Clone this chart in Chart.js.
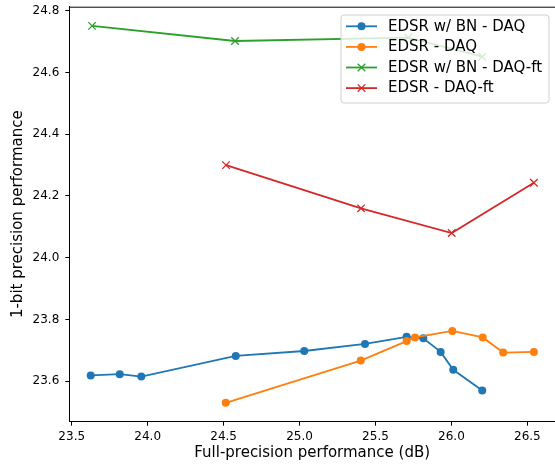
<!DOCTYPE html>
<html>
<head>
<meta charset="utf-8">
<script src="https://cdn.jsdelivr.net/npm/chart.js@4.4.1/dist/chart.umd.min.js"></script>
<style>
  html, body { margin: 0; padding: 0; background: #fff; }
  #wrap { width: 555px; height: 464px; position: relative; }
</style>
</head>
<body>
<div id="wrap"><canvas id="chart"></canvas></div>
<script>
// values
const seriesNames = ['EDSR w/ BN - DAQ', 'EDSR - DAQ', 'EDSR w/ BN - DAQ-ft', 'EDSR - DAQ-ft'];

const bnDaqX = [23.625, 23.816, 23.958, 24.58, 25.031, 25.431, 25.705, 25.815, 25.929, 26.012, 26.203];
const bnDaqY = [23.619, 23.623, 23.615, 23.682, 23.698, 23.721, 23.744, 23.739, 23.695, 23.637, 23.570];

const daqX = [24.514, 25.403, 25.705, 25.76, 26.006, 26.206, 26.341, 26.543];
const daqY = [23.530, 23.667, 23.730, 23.742, 23.763, 23.742, 23.693, 23.695];

const bnFtX = [23.634, 24.575, 25.716, 26.203];
const bnFtY = [24.751, 24.702, 24.713, 24.651];

const ftX = [24.516, 25.405, 26.002, 26.543];
const ftY = [24.300, 24.160, 24.080, 24.243];

const xTicks = [23.5, 24.0, 24.5, 25.0, 25.5, 26.0, 26.5];
const yTicks = [23.6, 23.8, 24.0, 24.2, 24.4, 24.6, 24.8];

const colors = { blue: '#1f77b4', orange: '#ff7f0e', green: '#2ca02c', red: '#d62728' };
const FONT = "'DejaVu Sans', sans-serif";

function pts(xs, ys) {
    return xs.map((x, i) => ({ x: x, y: ys[i] }));
}

function series(label, xs, ys, color, marker, order) {
    const isX = marker === 'x';
    return {
        label: label,
        data: pts(xs, ys),
        borderColor: color,
        backgroundColor: color,
        borderWidth: 1.8,
        pointStyle: isX ? 'crossRot' : 'circle',
        pointRadius: isX ? 5.3 : 4,
        pointBorderWidth: isX ? 1.3 : 0,
        pointBorderColor: color,
        pointBackgroundColor: color,
        pointHoverRadius: isX ? 5.3 : 4,
        tension: 0,
        fill: false,
        order: order
    };
}

// keep the plot box where the reference has it
function noPad(s) {
    s.paddingTop = 0; s.paddingBottom = 0; s.paddingLeft = 0; s.paddingRight = 0;
}

// matplotlib-style box legend inside the axes + top spine
const boxLegend = {
    id: 'boxLegend',
    afterDatasetsDraw(chart) {
        const ctx = chart.ctx;
        const a = chart.chartArea;
        ctx.save();
        ctx.strokeStyle = '#000';
        ctx.lineWidth = 1;
        ctx.beginPath();
        ctx.moveTo(a.left, a.top + 0.5);
        ctx.lineTo(a.right, a.top + 0.5);
        ctx.stroke();

        const bx = 341, by = 15, bw = 208, bh = 88, r = 3;
        ctx.beginPath();
        ctx.moveTo(bx + r, by);
        ctx.arcTo(bx + bw, by, bx + bw, by + bh, r);
        ctx.arcTo(bx + bw, by + bh, bx, by + bh, r);
        ctx.arcTo(bx, by + bh, bx, by, r);
        ctx.arcTo(bx, by, bx + bw, by, r);
        ctx.closePath();
        ctx.fillStyle = 'rgba(255,255,255,0.8)';
        ctx.fill();
        ctx.strokeStyle = '#d0d0d0';
        ctx.lineWidth = 1;
        ctx.stroke();

        ctx.font = '15px ' + FONT;
        ctx.textBaseline = 'middle';
        ctx.textAlign = 'left';
        chart.data.datasets.forEach((ds, i) => {
            const y = 26.3 + i * 20.6;
            ctx.strokeStyle = ds.borderColor;
            ctx.lineWidth = 1.8;
            ctx.beginPath();
            ctx.moveTo(346, y);
            ctx.lineTo(377, y);
            ctx.stroke();
            if (ds.pointStyle === 'circle') {
                ctx.fillStyle = ds.borderColor;
                ctx.beginPath();
                ctx.arc(361.5, y, 4, 0, Math.PI * 2);
                ctx.fill();
            } else {
                ctx.lineWidth = 1.3;
                ctx.beginPath();
                ctx.moveTo(357.7, y - 3.7); ctx.lineTo(365.3, y + 3.7);
                ctx.moveTo(365.3, y - 3.7); ctx.lineTo(357.7, y + 3.7);
                ctx.stroke();
            }
            ctx.fillStyle = '#000';
            ctx.fillText(ds.label, 388, y + 0.5);
        });
        ctx.restore();
    }
};

const tickFont = { family: FONT, size: 12 };
const titleFont = { family: FONT, size: 15 };

new Chart(document.getElementById('chart'), {
    type: 'line',
    data: {
        datasets: [
            series(seriesNames[0], bnDaqX, bnDaqY, colors.blue, 'o', 4),
            series(seriesNames[1], daqX, daqY, colors.orange, 'o', 3),
            series(seriesNames[2], bnFtX, bnFtY, colors.green, 'x', 2),
            series(seriesNames[3], ftX, ftY, colors.red, 'x', 1)
        ]
    },
    options: {
        responsive: true,
        maintainAspectRatio: false,
        animation: false,
        devicePixelRatio: 1,
        layout: { autoPadding: false, padding: { top: 6.7, right: 0, left: 0, bottom: 0 } },
        plugins: { legend: { display: false }, tooltip: { enabled: false } },
        scales: {
            x: {
                type: 'linear',
                min: 23.484,
                max: 26.682,
                afterBuildTicks: (s) => { s.ticks = xTicks.map(v => ({ value: v })); },
                afterFit: (s) => { s.height = 42.3; noPad(s); },
                ticks: { color: '#000', font: tickFont, padding: 4, maxRotation: 0,
                         callback: (v) => Number(v).toFixed(1) },
                grid: { display: true, drawOnChartArea: false, drawTicks: true, tickLength: 4, tickColor: '#000' },
                border: { display: true, color: '#000', width: 1 },
                title: { display: true, text: 'Full-precision performance (dB)', color: '#000',
                         font: titleFont, padding: { top: 0, bottom: 1.6 } }
            },
            y: {
                type: 'linear',
                min: 23.469,
                max: 24.813,
                afterBuildTicks: (s) => { s.ticks = yTicks.map(v => ({ value: v })); },
                afterFit: (s) => { s.width = 69.3; noPad(s); },
                ticks: { color: '#000', font: tickFont, padding: 6,
                         callback: (v) => Number(v).toFixed(1) },
                grid: { display: true, drawOnChartArea: false, drawTicks: true, tickLength: 4, tickColor: '#000' },
                border: { display: true, color: '#000', width: 1 },
                title: { display: true, text: '1-bit precision performance', color: '#000',
                         font: titleFont, padding: { top: 9.2, bottom: 0 } }
            }
        }
    },
    plugins: [boxLegend]
});
</script>
</body>
</html>
